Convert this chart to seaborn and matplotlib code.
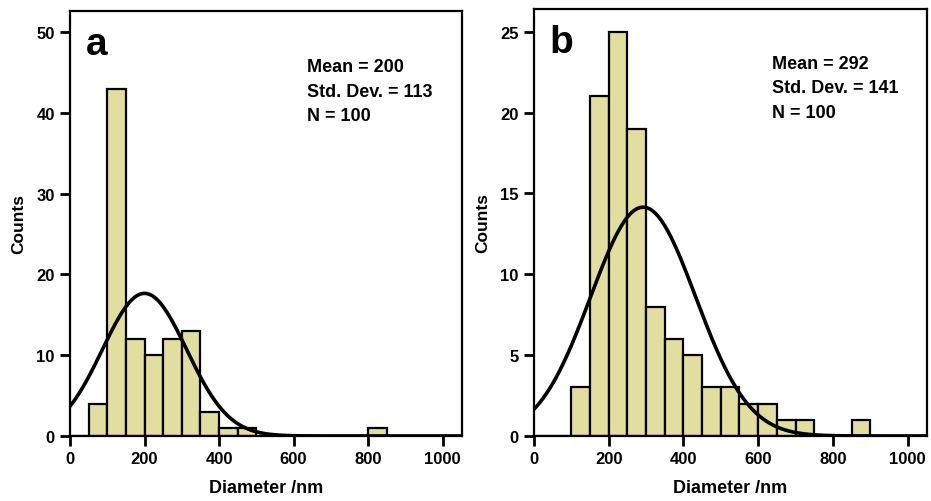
import numpy as np
import pandas as pd
import matplotlib
matplotlib.use("Agg")
import matplotlib.pyplot as plt
import seaborn as sns

# bin edges (nm) and counts
bin_width = 50
a_left = [50, 100, 150, 200, 250, 300, 350, 400, 450, 800]
a_counts = [4, 43, 12, 10, 12, 13, 3, 1, 1, 1]
b_left = [100, 150, 200, 250, 300, 350, 400, 450, 500, 550, 600, 650, 700, 850]
b_counts = [3, 21, 25, 19, 8, 6, 5, 3, 3, 2, 2, 1, 1, 1]

# fit stats shown on each panel
a_stats = {"mean": 200, "sd": 113, "n": 100}
b_stats = {"mean": 292, "sd": 141, "n": 100}

sns.set_style("ticks")
plt.rcParams["font.family"] = ["Liberation Sans", "DejaVu Sans"]
plt.rcParams["font.weight"] = "bold"
plt.rcParams["text.color"] = "black"
plt.rcParams["axes.labelcolor"] = "black"
plt.rcParams["axes.edgecolor"] = "black"
plt.rcParams["xtick.color"] = "black"
plt.rcParams["ytick.color"] = "black"

fig = plt.figure(figsize=(9.31, 5.02), dpi=100)
ax_a = fig.add_axes([0.0752, 0.1295, 0.4210, 0.8466])
ax_b = fig.add_axes([0.5736, 0.1295, 0.4221, 0.8506])

bar_color = "#E2DE9F"
edges = list(range(0, 1101, bin_width))


def draw_panel(ax, lefts, counts, stats, letter, ylim, yticks, text_y):
    df = pd.DataFrame({"diam": [l + bin_width / 2 for l in lefts], "count": counts})
    sns.histplot(data=df, x="diam", weights="count", bins=edges, ax=ax,
                 color=bar_color, edgecolor="black", linewidth=1.6, alpha=1)
    xs = np.linspace(0, 1050, 400)
    pdf = np.exp(-0.5 * ((xs - stats["mean"]) / stats["sd"]) ** 2) / (stats["sd"] * np.sqrt(2 * np.pi))
    sns.lineplot(x=xs, y=stats["n"] * bin_width * pdf, ax=ax, color="black", linewidth=2.6)

    ax.set_xlim(0, 1052)
    ax.set_ylim(0, ylim)
    ax.set_xticks([0, 200, 400, 600, 800, 1000])
    ax.set_yticks(yticks)
    ax.tick_params(direction="out", length=7, width=2, labelsize=12, pad=4)
    for lab in ax.get_xticklabels() + ax.get_yticklabels():
        lab.set_fontweight("bold")
    for sp in ax.spines.values():
        sp.set_linewidth(1.6)
        sp.set_visible(True)
    ax.set_xlabel("Diameter /nm", fontsize=13, fontweight="bold", labelpad=9)
    ax.set_ylabel("Counts", fontsize=12.5, fontweight="bold", labelpad=7)

    ax.text(0.04, 0.965, letter, transform=ax.transAxes, fontsize=28,
            fontweight="bold", va="top", ha="left")
    txt = "Mean = %d\nStd. Dev. = %d\nN = %d" % (stats["mean"], stats["sd"], stats["n"])
    ax.text(0.605, text_y, txt, transform=ax.transAxes, fontsize=13,
            fontweight="bold", va="top", ha="left", linespacing=1.6)


draw_panel(ax_a, a_left, a_counts, a_stats, "a", 52.6, [0, 10, 20, 30, 40, 50], 0.89)
draw_panel(ax_b, b_left, b_counts, b_stats, "b", 26.4, [0, 5, 10, 15, 20, 25], 0.893)

fig.savefig("out.png", dpi=100)
